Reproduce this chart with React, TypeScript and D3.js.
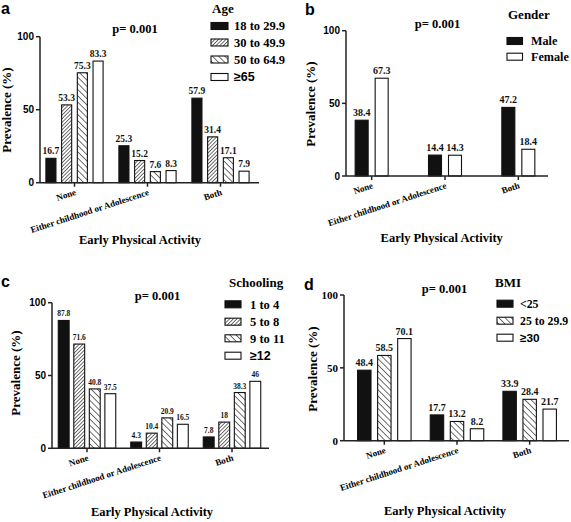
import React from "react";
import * as d3 from "d3";

const categories = ["None", "Either childhood or Adolescence", "Both"];

const ageSeries = ["18 to 29.9", "30 to 49.9", "50 to 64.9", "≥65"];
const ageValues = [
  [16.7, 53.3, 75.3, 83.3],
  [25.3, 15.2, 7.6, 8.3],
  [57.9, 31.4, 17.1, 7.9],
];

const genderSeries = ["Male", "Female"];
const genderValues = [
  [38.4, 67.3],
  [14.4, 14.3],
  [47.2, 18.4],
];

const schoolingSeries = ["1 to 4", "5 to 8", "9 to 11", "≥12"];
const schoolingValues = [
  [87.8, 71.6, 40.8, 37.5],
  [4.3, 10.4, 20.9, 16.5],
  [7.8, 18, 38.3, 46],
];

const bmiSeries = ["<25", "25 to 29.9", "≥30"];
const bmiValues = [
  [48.4, 58.5, 70.1],
  [17.7, 13.2, 8.2],
  [33.9, 28.4, 21.7],
];

const yTicks = [0, 50, 100];
const pText = "p= 0.001";
const yTitle = "Prevalence (%)";
const xTitle = "Early Physical Activity";

const SERIF = "'Liberation Serif', 'Times New Roman', serif";
const SANS = "'Liberation Sans', Arial, sans-serif";

type Fill = "black" | "dense" | "diag" | "white";

interface PanelCfg {
  letter: string;
  letterX: number;
  letterY: number;
  axisX: number;
  axisEnd: number;
  y0: number;
  y100: number;
  bandRange: [number, number];
  groupW: number;
  pad: number;
  series: string[];
  values: number[][];
  fills: Fill[];
  valueFont: number;
  tickFont: string;
  tickFontSize: number;
  legendTitle: string;
  legendTitleX: number;
  legendTitleY: number;
  legendFont: number;
  swX: number;
  swW: number;
  rows: number[];
  legTextX: number;
  pX: number;
  pY: number;
  yTitleX: number;
  yTitleY: number;
  xTitleX: number;
  xTitleY: number;
}

const fillFor = (f: Fill) =>
  f === "black" ? "#111" : f === "white" ? "#fff" : f === "dense" ? "url(#dense)" : "url(#diag)";

const Panel = ({ c }: { c: PanelCfg }) => {
  const y = d3.scaleLinear().domain([0, 100]).range([c.y0, c.y100]);
  const x = d3.scaleBand<string>().domain(categories).range(c.bandRange);
  const inner = d3
    .scaleBand<string>()
    .domain(c.series)
    .range([-c.groupW / 2, c.groupW / 2])
    .paddingInner(c.pad);
  const cx = (cat: string) => (x(cat) as number) + x.bandwidth() / 2;
  const bw = inner.bandwidth();
  return (
    <g>
      <text x={c.letterX} y={c.letterY} fontFamily={SANS} fontWeight="bold" fontSize={16}>
        {c.letter}
      </text>
      {categories.map((cat, gi) =>
        c.series.map((s, si) => {
          const v = c.values[gi][si];
          const bx = cx(cat) + (inner(s) as number);
          return (
            <g key={cat + s}>
              <rect
                x={bx}
                y={y(v)}
                width={bw}
                height={c.y0 - y(v)}
                fill={fillFor(c.fills[si])}
                stroke="#111"
                strokeWidth={1.1}
              />
              <text
                x={bx + bw / 2}
                y={y(v) - 4}
                textAnchor="middle"
                fontFamily={SERIF}
                fontWeight="bold"
                fontSize={c.valueFont}
                fill="#111"
              >
                {String(v)}
              </text>
            </g>
          );
        })
      )}
      <line x1={c.axisX} x2={c.axisX} y1={c.y0} y2={c.y100} stroke="#222" strokeWidth={1.5} />
      <line x1={c.axisX} x2={c.axisEnd} y1={c.y0} y2={c.y0} stroke="#222" strokeWidth={1.5} />
      {yTicks.map((t) => (
        <g key={t}>
          <line x1={c.axisX - 4} x2={c.axisX} y1={y(t)} y2={y(t)} stroke="#222" strokeWidth={1.5} />
          <text
            x={c.axisX - 6}
            y={y(t)}
            dy="0.35em"
            textAnchor="end"
            fontFamily={c.tickFont}
            fontWeight="bold"
            fontSize={c.tickFontSize}
          >
            {t}
          </text>
        </g>
      ))}
      {categories.map((cat) => (
        <g key={cat}>
          <line x1={cx(cat)} x2={cx(cat)} y1={c.y0} y2={c.y0 + 4} stroke="#222" strokeWidth={1.5} />
          <text
            transform={`translate(${cx(cat) + 2},${c.y0 + 12}) rotate(-18)`}
            textAnchor="end"
            fontFamily={SERIF}
            fontWeight="bold"
            fontSize={9}
          >
            {cat}
          </text>
        </g>
      ))}
      <text
        transform={`translate(${c.yTitleX},${c.yTitleY}) rotate(-90)`}
        textAnchor="middle"
        fontFamily={SERIF}
        fontWeight="bold"
        fontSize={13}
      >
        {yTitle}
      </text>
      <text
        x={c.xTitleX}
        y={c.xTitleY}
        textAnchor="middle"
        fontFamily={SERIF}
        fontWeight="bold"
        fontSize={12.5}
      >
        {xTitle}
      </text>
      <text x={c.pX} y={c.pY} textAnchor="middle" fontFamily={SERIF} fontWeight="bold" fontSize={12.5}>
        {pText}
      </text>
      <text x={c.legendTitleX} y={c.legendTitleY} fontFamily={SERIF} fontWeight="bold" fontSize={13}>
        {c.legendTitle}
      </text>
      {c.series.map((s, si) => (
        <g key={s}>
          <rect
            x={c.swX}
            y={c.rows[si] - 3.5}
            width={c.swW}
            height={7}
            fill={fillFor(c.fills[si])}
            stroke="#111"
            strokeWidth={1.1}
          />
          <text
            x={c.legTextX}
            y={c.rows[si]}
            dy="0.35em"
            fontFamily={s.startsWith("≥") ? SANS : SERIF}
            fontWeight="bold"
            fontSize={c.legendFont}
          >
            {s}
          </text>
        </g>
      ))}
    </g>
  );
};

const panels: PanelCfg[] = [
  {
    letter: "a", letterX: 1, letterY: 14,
    axisX: 40, axisEnd: 259, y0: 182.7, y100: 36.7,
    bandRange: [38, 257], groupW: 57.2, pad: 0.36,
    series: ageSeries, values: ageValues, fills: ["black", "dense", "diag", "white"],
    valueFont: 9.5, tickFont: SANS, tickFontSize: 10,
    legendTitle: "Age", legendTitleX: 212, legendTitleY: 13, legendFont: 12.5,
    swX: 211, swW: 17, rows: [26, 42.5, 59.5, 77], legTextX: 234,
    pX: 135, pY: 33, yTitleX: 11, yTitleY: 110, xTitleX: 140, xTitleY: 244,
  },
  {
    letter: "b", letterX: 305, letterY: 15,
    axisX: 346, axisEnd: 548, y0: 176, y100: 30.7,
    bandRange: [335, 555], groupW: 33, pad: 0.35,
    series: genderSeries, values: genderValues, fills: ["black", "white"],
    valueFont: 10, tickFont: SANS, tickFontSize: 10,
    legendTitle: "Gender", legendTitleX: 508, legendTitleY: 19, legendFont: 12.2,
    swX: 507, swW: 15.5, rows: [41, 56.7], legTextX: 531,
    pX: 437.5, pY: 28, yTitleX: 315, yTitleY: 104, xTitleX: 441.7, xTitleY: 242,
  },
  {
    letter: "c", letterX: 1, letterY: 287,
    axisX: 52, axisEnd: 269, y0: 448.3, y100: 302.7,
    bandRange: [50.75, 268.25], groupW: 57.5, pad: 0.3,
    series: schoolingSeries, values: schoolingValues, fills: ["black", "dense", "diag", "white"],
    valueFont: 7.5, tickFont: SANS, tickFontSize: 10,
    legendTitle: "Schooling", legendTitleX: 229, legendTitleY: 287, legendFont: 12.5,
    swX: 225, swW: 16, rows: [304.3, 321.7, 338.3, 355.7], legTextX: 250,
    pX: 157.5, pY: 300, yTitleX: 20, yTitleY: 373, xTitleX: 152, xTitleY: 516,
  },
  {
    letter: "d", letterX: 304, letterY: 290,
    axisX: 344, axisEnd: 569, y0: 440.7, y100: 295,
    bandRange: [348, 566], groupW: 53.5, pad: 0.33,
    series: bmiSeries, values: bmiValues, fills: ["black", "diag", "white"],
    valueFont: 10, tickFont: SERIF, tickFontSize: 11,
    legendTitle: "BMI", legendTitleX: 495, legendTitleY: 287, legendFont: 11.8,
    swX: 497, swW: 16, rows: [303.7, 320.7, 337.7], legTextX: 520,
    pX: 444.5, pY: 293, yTitleX: 316.5, yTitleY: 369, xTitleX: 445, xTitleY: 515,
  },
];

export default function App() {
  return (
    <svg
      width={571}
      height={522}
      style={{ position: "absolute", left: 0, top: 0, background: "#fff" }}
    >
      <defs>
        <pattern id="dense" patternUnits="userSpaceOnUse" width={2.6} height={2.6} patternTransform="rotate(45)">
          <rect width={2.6} height={2.6} fill="#fff" />
          <line x1={0} y1={0} x2={0} y2={2.6} stroke="#222" strokeWidth={1.3} />
        </pattern>
        <pattern id="diag" patternUnits="userSpaceOnUse" width={4.4} height={4.4} patternTransform="rotate(-45)">
          <rect width={4.4} height={4.4} fill="#fff" />
          <line x1={0} y1={0} x2={0} y2={4.4} stroke="#111" strokeWidth={1.2} />
        </pattern>
      </defs>
      <rect width={571} height={522} fill="#fff" />
      {panels.map((p) => (
        <Panel key={p.letter} c={p} />
      ))}
    </svg>
  );
}
